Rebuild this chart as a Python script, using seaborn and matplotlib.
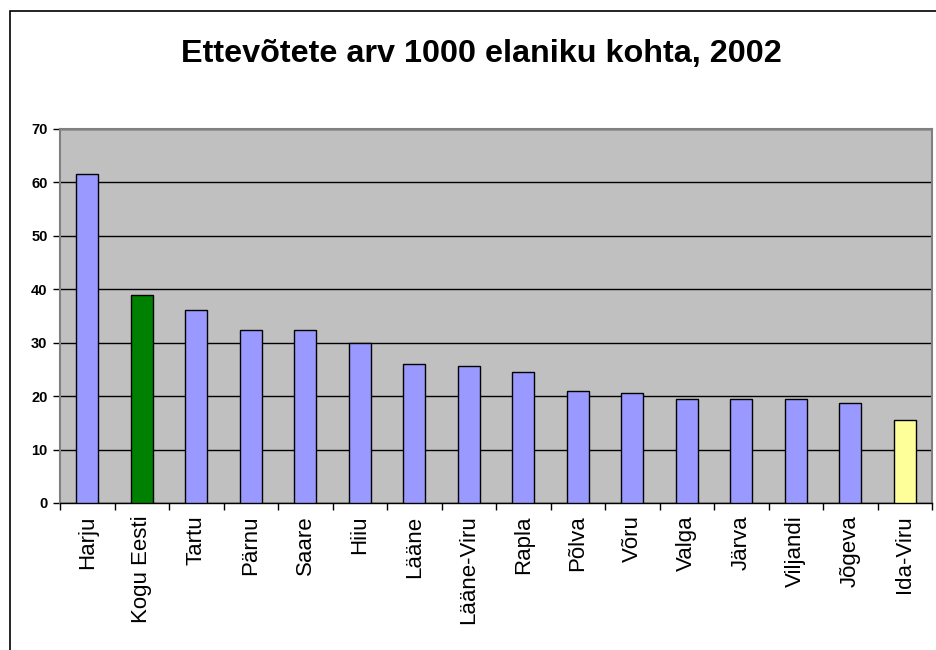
import numpy as np
import matplotlib
matplotlib.use("Agg")
import matplotlib.pyplot as plt
import matplotlib.patches as patches
import seaborn as sns

# --------------------------------------------
# DATA
# --------------------------------------------
maakonnad = ["Harju", "Kogu Eesti", "Tartu", "Pärnu", "Saare", "Hiiu", "Lääne",
             "Lääne-Viru", "Rapla", "Põlva", "Võru", "Valga", "Järva",
             "Viljandi", "Jõgeva", "Ida-Viru"]
ettevotteid = [61.5, 38.9, 36.2, 32.3, 32.3, 29.9, 26.1, 25.7, 24.5, 21.0,
               20.6, 19.4, 19.4, 19.4, 18.7, 15.5]
varvid = ["#9999FF", "#008000"] + ["#9999FF"] * 13 + ["#FFFF99"]
y_ticks = [0, 10, 20, 30, 40, 50, 60, 70]
pealkiri = "Ettevõtete arv 1000 elaniku kohta, 2002"

# --------------------------------------------
# STYLE
# --------------------------------------------
sns.set_style("white")
plt.rcParams["font.family"] = ["Liberation Sans", "DejaVu Sans"]
plt.rcParams["text.color"] = "black"
plt.rcParams["xtick.color"] = "black"
plt.rcParams["ytick.color"] = "black"
plt.rcParams["xtick.labelcolor"] = "black"
plt.rcParams["ytick.labelcolor"] = "black"

W, H = 936, 650
fig = plt.figure(figsize=(W / 100, H / 100), dpi=100)
ax = fig.add_axes([60 / W, 1 - 503 / H, (932 - 60) / W, (503 - 129) / H])
ax.set_facecolor("#C0C0C0")

sns.barplot(x=maakonnad, y=ettevotteid, hue=maakonnad, palette=varvid,
            legend=False, width=0.4, edgecolor="black", linewidth=1,
            saturation=1, ax=ax, zorder=3)

# gridlines
ax.set_axisbelow(True)
ax.yaxis.grid(True, color="black", linewidth=1)
ax.xaxis.grid(False)

ax.set_ylim(0, 70)
ax.set_xlim(-0.5, len(maakonnad) - 0.5)
ax.set_yticks(y_ticks)
ax.set_yticklabels([str(t) for t in y_ticks], fontsize=10.5, fontweight="bold",
                   color="black")
ax.tick_params(axis="y", direction="out", length=5, width=1, color="black",
               pad=4, left=True)

# category labels at centres, tick marks at boundaries
ax.set_xticks(np.arange(len(maakonnad)))
ax.set_xticklabels(maakonnad, rotation=90, fontsize=16, color="black")
ax.tick_params(axis="x", which="major", length=0, pad=9)
ax.set_xticks(np.arange(-0.5, len(maakonnad)), minor=True)
ax.tick_params(axis="x", which="minor", direction="out", length=5, width=1,
               color="black", bottom=True)

ax.set_xlabel("")
ax.set_ylabel("")
for side in ["top", "right", "left"]:
    ax.spines[side].set_color("#808080")
    ax.spines[side].set_linewidth(1.5)
ax.spines["bottom"].set_color("black")
ax.spines["bottom"].set_linewidth(1)

# title
fig.text(481 / W, 1 - 62 / H, pealkiri, ha="center", va="baseline",
         fontsize=23.3, fontweight="bold", color="black")

# chart border (cropped on the right and bottom)
fig.patches.append(patches.Rectangle((9.5 / W, -0.1), 1.2, 1 - 10.5 / H + 0.1,
                                     transform=fig.transFigure, fill=False,
                                     edgecolor="black", linewidth=1.2))

fig.savefig("out.png", dpi=100)
